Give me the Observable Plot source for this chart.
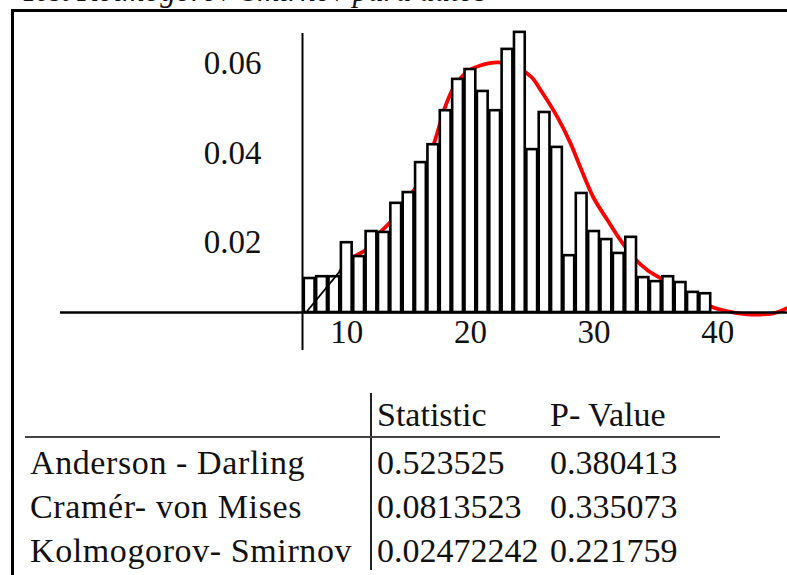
<!DOCTYPE html>
<html><head><meta charset="utf-8">
<script src="https://cdn.jsdelivr.net/npm/d3@7"></script>
<script src="https://cdn.jsdelivr.net/npm/@observablehq/plot@0.6"></script>
<style>
html,body{margin:0;padding:0;background:#fff;}
#page{position:relative;width:787px;height:575px;overflow:hidden;font-family:"Liberation Serif","Times New Roman",serif;color:#111;}
#title{position:absolute;left:21px;top:-25px;font-size:31px;line-height:31px;font-style:italic;white-space:nowrap;}
#frame{position:absolute;left:11px;top:9px;width:900px;height:700px;border-left:3px solid #000;border-top:3px solid #000;}
#chart{position:absolute;left:0;top:0;}
.cell{position:absolute;font-size:34px;line-height:44px;white-space:nowrap;}
.name{letter-spacing:0.6px;}
.vline{position:absolute;left:370px;top:393px;width:1.5px;height:177px;background:#222;}
.hline{position:absolute;left:25px;top:436px;width:695px;height:2px;background:#444;}
</style></head>
<body><div id="page">
<div id="title"></div>
<div id="frame"></div>
<div id="chart"></div>
<div class="vline"></div>
<div class="hline"></div>
<div id="table"></div>
</div>
<script>
// ---- data ----
const titleText = "Test Kolmogorov-Smirnov para datos";
const binCenters = [7,8,9,10,11,12,13,14,15,16,17,18,19,20,21,22,23,24,25,26,27,28,29,30,31,32,33,34,35,36,37,38,39];
const density = [0.0076,0.0080,0.0080,0.0156,0.0125,0.0181,0.0179,0.0244,0.0268,0.0335,0.0375,0.0451,0.0521,0.0543,0.0494,0.0451,0.0588,0.0626,0.0364,0.0447,0.0369,0.0127,0.0266,0.0181,0.0163,0.0132,0.0168,0.0078,0.0069,0.0080,0.0067,0.0045,0.0042];
const curveX = [9.5,10.7,11.5,12.7,13.8,14.75,15.8,16.6,17.35,17.85,18.65,19.8,20.8,22.2,23.25,24.9,25.7,27.05,28.1,28.9,29.95,31.1,32.15,33.2,34.35,35.4,36.45,37.55,38.6,39.65,41.3,42.4,43.5,44.5,45.65];
const curveY = [0.0094,0.0127,0.0139,0.0179,0.0210,0.0250,0.0288,0.0340,0.0404,0.0451,0.0503,0.0539,0.0552,0.0559,0.0554,0.0527,0.0496,0.0436,0.0378,0.0324,0.0257,0.0206,0.0161,0.0123,0.0094,0.0076,0.0056,0.0042,0.0027,0.0011,0.0000,-0.0004,-0.00045,-0.0002,0.0010];
const tailX = [6.82,9.5];
const tailY = [0.0004,0.0094];
const xTicks = [10,20,30,40];
const yTicks = [0.02,0.04,0.06];
const headers = ["Statistic","P- Value"];
const testNames = ["Anderson - Darling","Cramér- von Mises","Kolmogorov- Smirnov"];
const statistics = ["0.523525","0.0813523","0.02472242"];
const pValues = ["0.380413","0.335073","0.221759"];

// ---- build ----
document.getElementById("title").textContent = titleText;
const bins = binCenters.map((c,i)=>({x1:c-0.5,x2:c+0.5,y:density[i]}));
const curve = curveX.map((x,i)=>({x,y:curveY[i]}));
const tail = tailX.map((x,i)=>({x,y:tailY[i]}));
const axisOrigin = 6.42;

const plot = Plot.plot({
  width:787, height:380, marginLeft:60, marginRight:0, marginTop:33, marginBottom:30,
  x:{domain:[-13.154,45.647], axis:null},
  y:{domain:[-0.00849,0.06235], axis:null},
  style:{fontFamily:"Liberation Serif", fontSize:"33px", background:"transparent", overflow:"visible", color:"#111"},
  marks:[
    Plot.line(curve,{x:"x",y:"y",stroke:"#ff0000",strokeWidth:3.8,curve:"catmull-rom"}),
    Plot.rect(bins,{x1:"x1",x2:"x2",y1:()=>0,y2:"y",fill:"white",stroke:"black",strokeWidth:2.6,insetLeft:0.8,insetRight:0.8}),
    Plot.line(tail,{x:"x",y:"y",stroke:"#000",strokeWidth:1.8}),
    Plot.ruleY([0],{stroke:"black",strokeWidth:2.5}),
    Plot.ruleX([axisOrigin],{stroke:"black",strokeWidth:2}),
    Plot.text(yTicks,{x:()=>axisOrigin,y:d=>d,text:d=>d.toFixed(2),textAnchor:"end",dx:-41,dy:19.5,fontSize:33,fill:"#111"}),
    Plot.text(xTicks,{x:d=>d,y:()=>0,text:d=>String(d),dy:20,fontSize:33,fill:"#111"})
  ]
});
document.getElementById("chart").appendChild(plot);

const table = document.getElementById("table");
function cell(text,left,top,cls){const d=document.createElement("div");d.className="cell"+(cls?" "+cls:"");d.style.left=left+"px";d.style.top=top+"px";d.textContent=text;table.appendChild(d);}
const colLeft=[30,377,550];
const headTop=393, rowTop=441, rowStep=44;
headers.forEach((h,i)=>cell(h,colLeft[i+1],headTop));
testNames.forEach((n,i)=>{
  cell(n,colLeft[0],rowTop+i*rowStep,"name");
  cell(statistics[i],colLeft[1],rowTop+i*rowStep);
  cell(pValues[i],colLeft[2],rowTop+i*rowStep);
});
</script>
</body></html>
